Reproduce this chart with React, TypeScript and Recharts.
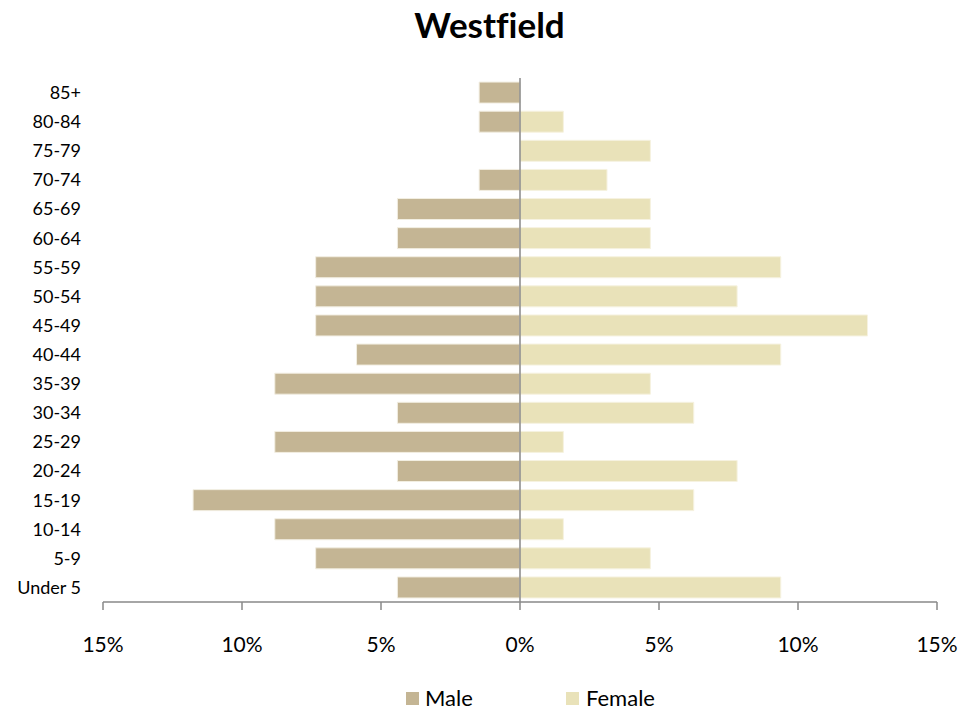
import React from "react";
import { BarChart, Bar, XAxis, YAxis, ReferenceLine, Legend } from "recharts";

const ageGroups = ["85+", "80-84", "75-79", "70-74", "65-69", "60-64", "55-59", "50-54", "45-49", "40-44", "35-39", "30-34", "25-29", "20-24", "15-19", "10-14", "5-9", "Under 5"];
const maleShare = [1.47, 1.47, 0, 1.47, 4.41, 4.41, 7.35, 7.35, 7.35, 5.88, 8.82, 4.41, 8.82, 4.41, 11.76, 8.82, 7.35, 4.41];
const femaleShare = [0, 1.56, 4.69, 3.13, 4.69, 4.69, 9.38, 7.81, 12.5, 9.38, 4.69, 6.25, 1.56, 7.81, 6.25, 1.56, 4.69, 9.38];
const xTicks = [-15, -10, -5, 0, 5, 10, 15];

const MALE = "#C4B594";
const FEMALE = "#E9E2B9";
const FONT = "Lato, 'Open Sans', sans-serif";

const data = ageGroups.map((g, i) => ({ group: g, male: -maleShare[i], female: femaleShare[i] }));

const LegendContent = () => (
  <div style={{ position: "relative", width: 979, height: 30, fontFamily: FONT, fontSize: 22, color: "#000" }}>
    <div style={{ position: "absolute", left: 406, top: 9, width: 13, height: 13, background: MALE }} />
    <div style={{ position: "absolute", left: 425, top: 0, lineHeight: "30px" }}>Male</div>
    <div style={{ position: "absolute", left: 566, top: 9, width: 13, height: 13, background: FEMALE }} />
    <div style={{ position: "absolute", left: 586, top: 0, lineHeight: "30px" }}>Female</div>
  </div>
);

export default function App() {
  return (
    <div style={{ position: "absolute", left: 0, top: 0, width: 979, height: 713, background: "#fff" }}>
      <div style={{ position: "absolute", left: 0, top: 3, width: 979, textAlign: "center", fontFamily: FONT, fontWeight: 700, fontSize: 35, color: "#000", fontVariantLigatures: "none" }}>
        Westfield
      </div>
      <BarChart
        width={979}
        height={713}
        data={data}
        layout="vertical"
        stackOffset="sign"
        barCategoryGap="14%"
        margin={{ top: 78, right: 42, bottom: 41, left: 0 }}
      >
        <XAxis
          type="number"
          domain={[-15, 15]}
          ticks={xTicks}
          allowDataOverflow
          tickFormatter={(v: number) => `${Math.abs(v)}%`}
          axisLine={{ stroke: "#888888", strokeWidth: 1.5 }}
          tickLine={{ stroke: "#888888", strokeWidth: 1.5 }}
          tickSize={8}
          tickMargin={27}
          height={40}
          tick={{ fontFamily: FONT, fontSize: 21, fill: "#000" }}
        />
        <YAxis
          type="category"
          dataKey="group"
          width={103}
          axisLine={false}
          tickLine={false}
          tickSize={0}
          tickMargin={22}
          interval={0}
          tick={{ fontFamily: FONT, fontSize: 18, fill: "#000" }}
        />
        <ReferenceLine x={0} stroke="#888888" strokeWidth={1.5} />
        <Bar dataKey="male" name="Male" stackId="pop" fill={MALE} stroke="#F2EEE2" strokeWidth={1} isAnimationActive={false} />
        <Bar dataKey="female" name="Female" stackId="pop" fill={FEMALE} stroke="#F6F2E0" strokeWidth={1} isAnimationActive={false} />
        <Legend verticalAlign="bottom" content={<LegendContent />} wrapperStyle={{ left: 0, bottom: 0, width: 979 }} />
      </BarChart>
    </div>
  );
}
